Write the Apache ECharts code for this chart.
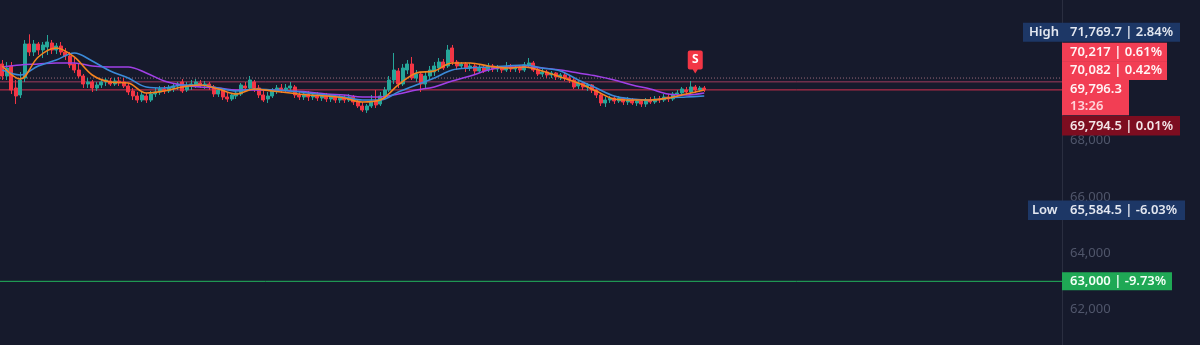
<!DOCTYPE html>
<html><head><meta charset="utf-8">
<script src="https://cdn.jsdelivr.net/npm/echarts@6/dist/echarts.min.js"></script>
<style>html,body{margin:0;padding:0;background:#161a2c;overflow:hidden}#c{width:1200px;height:345px}</style>
</head><body><div id="c"></div>
<script>
// ---- data ----
const opens = [70716,70290,70645,69864,69616,70219,71426,71142,71426,71213,
71320,71462,71213,71355,71142,71000,70716,70503,70290,70006,
70077,69864,69971,70077,70113,70006,70113,70077,69935,69758,
69580,69438,69580,69438,69651,69722,69829,69758,69864,69935,
70077,69793,69935,69971,70042,69971,70006,69900,69651,69793,
69545,69474,69580,69651,69935,69864,70077,69864,69616,69474,
69580,69758,69864,69793,69864,69900,69616,69545,69651,69545,
69616,69509,69580,69474,69545,69438,69509,69438,69545,69367,
69225,69083,69225,69403,69296,69545,69793,70148,70468,70006,
70503,70716,70219,70361,70006,70290,70432,70574,70787,70645,
71284,70787,70645,70716,70574,70645,70468,70574,70503,70645,
70539,70574,70503,70610,70539,70574,70503,70681,70752,70503,
70361,70432,70326,70397,70255,70326,70219,70148,69935,70042,
69900,69971,69793,69616,69332,69438,69509,69403,69509,69367,
69438,69332,69403,69296,69438,69367,69474,69438,69545,69474,
69651,69687,69793,69722,69900,69793,69864];
const closes = [70290,70574,69793,69580,70148,71426,71142,71426,71213,71391,
71497,71213,71355,71142,71000,70681,70503,70290,70006,70077,
69864,69971,70077,70148,70006,70113,70042,69935,69722,69580,
69438,69616,69438,69651,69722,69829,69758,69864,69935,70006,
69758,69935,70006,70077,69971,70006,69900,69651,69793,69545,
69474,69616,69687,69971,69864,70148,69864,69616,69438,69580,
69758,69864,69793,69864,69935,69616,69545,69651,69545,69616,
69509,69580,69474,69545,69438,69509,69438,69545,69367,69225,
69083,69225,69403,69261,69580,69793,70148,70503,70006,70574,
70716,70219,70361,70006,70290,70503,70645,70787,70574,71213,
70787,70645,70716,70574,70645,70468,70574,70468,70645,70539,
70574,70503,70610,70539,70574,70503,70681,70752,70503,70361,
70432,70326,70397,70255,70326,70219,70148,69900,70042,69900,
69971,69793,69616,69332,69438,69509,69403,69509,69367,69438,
69332,69403,69296,69438,69367,69474,69438,69545,69474,69651,
69687,69829,69722,69900,69793,69864,69796.3];
const lows = [70148,70148,69651,69296,69509,70077,71000,71000,71036,70929,
71036,71071,71071,71036,70858,70574,70397,70219,69864,69864,
69722,69758,69864,69935,69935,69935,69935,69864,69616,69438,
69332,69367,69332,69367,69545,69616,69651,69687,69722,69793,
69687,69722,69793,69864,69864,69829,69793,69545,69545,69438,
69367,69403,69474,69580,69722,69793,69722,69509,69367,69332,
69509,69651,69687,69722,69758,69509,69438,69438,69403,69438,
69403,69403,69367,69367,69332,69332,69332,69367,69261,69154,
69012,68977,69154,69154,69225,69438,69722,70006,69864,69935,
70361,70148,70077,69722,69864,70148,70290,70432,70503,70574,
70681,70503,70539,70432,70468,70361,70397,70397,70432,70432,
70432,70397,70432,70432,70432,70397,70432,70574,70432,70290,
70255,70219,70219,70148,70148,70113,70042,69829,69829,69793,
69758,69687,69509,69225,69190,69332,69296,69332,69261,69261,
69261,69225,69190,69190,69296,69296,69332,69367,69367,69403,
69545,69580,69616,69651,69687,69722,69722];
const highs = [70858,70787,70787,70148,70432,71568,71769.7,71568,71497,71497,
71746,71568,71462,71497,71284,71142,70929,70752,70361,70219,
70148,70077,70184,70219,70219,70219,70255,70219,70042,69864,
69722,69722,69687,69758,69864,69935,69935,69971,70042,70077,
70184,70077,70148,70184,70148,70113,70077,69971,69864,69864,
69722,69687,69793,70042,70077,70290,70148,69971,69793,69722,
69864,69971,70006,70006,70077,69971,69758,69722,69758,69722,
69722,69687,69687,69651,69651,69616,69616,69651,69616,69474,
69367,69296,69616,69793,69722,69900,70290,71107,70574,70716,
70858,70965,70503,70432,70432,70645,70787,70929,70894,71391,
71391,70858,70787,70787,70752,70716,70681,70645,70752,70716,
70681,70645,70787,70716,70645,70681,70787,70929,70823,70610,
70539,70503,70468,70432,70397,70397,70326,70219,70148,70077,
70042,70006,69864,69687,69545,69580,69580,69580,69545,69545,
69509,69474,69474,69509,69545,69580,69580,69651,69651,69722,
69793,69900,69900,70113,69971,69935,69935];

// moving-average lines, read at every 4th bar
const maIdx = [0,4,8,12,16,20,24,28,32,36,40,44,48,52,56,60,64,68,72,76,
80,84,88,92,96,100,104,108,112,116,120,124,128,132,136,140,144,148,152,156];
const maFast = [70645,70184,70965,71284,70965,70326,70077,70042,69687,69758,
69900,69971,69829,69651,69829,69758,69687,69616,69580,69509,
69367,69438,69971,70397,70468,70752,70752,70645,70574,70610,
70468,70255,70042,69758,69474,69438,69438,69509,69651,69793];
const maMid = [70503,70326,70645,70858,71107,70823,70468,70219,69900,69864,
69971,69971,69864,69758,69829,69793,69758,69687,69616,69545,
69438,69438,69722,69971,70219,70503,70574,70610,70645,70681,
70574,70468,70148,69864,69580,69474,69438,69509,69545,69580];
const maSlow = [70610,70681,70716,70752,70752,70645,70610,70610,70397,70113,
69971,69900,69864,69793,69793,69793,69758,69722,69651,69616,
69545,69545,69651,69793,69900,70113,70290,70503,70610,70610,
70574,70503,70397,70290,70148,69971,69829,69651,69616,69687];

const yTicks = [62000, 64000, 66000, 68000];
const totalSlots = 236;
const categories = Array.from({length: totalSlots}, (_, i) => 'b' + i);

const dottedLevel = 70217, pinkLevel = 70082, lastPrice = 69796.3, refPrice = 69794.5;
const highValue = 71769.7, lowValue = 65584.5, greenLevel = 63000;
const signalBar = 154;

// ---- chart ----
const chart = echarts.init(document.getElementById('c'), null, {renderer: 'canvas'});
const candleData = opens.map((o, i) => [o, closes[i], lows[i], highs[i]]);
const toPairs = arr => maIdx.map((x, k) => [x, arr[k]]);
const FONT = '"Noto Sans", "Open Sans", sans-serif';
// horizontal price levels spanning the whole plot, drawn through the value x-axis
const levelLine = (v, color, type) => ({
  type: 'line', xAxisIndex: 1, yAxisIndex: 0, silent: true, z: 1, showSymbol: false,
  data: [[-0.5, v], [totalSlots - 0.5, v]],
  lineStyle: {color: color, type: type, width: 1},
  emphasis: {disabled: true}
});

chart.setOption({
  backgroundColor: '#161a2c',
  animation: false,
  grid: {left: 0, right: 138, top: 0, bottom: 0},
  xAxis: [
    {type: 'category', data: categories, boundaryGap: true, show: false},
    {type: 'value', min: -0.5, max: totalSlots - 0.5, show: false}
  ],
  yAxis: {
    type: 'value', position: 'right', min: 60740, max: 72988, scale: true,
    splitLine: {show: false},
    axisTick: {show: false},
    axisLine: {show: true, onZero: false, lineStyle: {color: '#2a2e40', width: 1}},
    axisLabel: {
      customValues: yTicks, margin: 8, color: '#50566b', fontSize: 13, fontFamily: FONT,
      formatter: v => v.toLocaleString('en-US')
    }
  },
  series: [
    levelLine(dottedLevel, '#9a6878', [1, 2]),
    levelLine(pinkLevel, '#a03a5c', 'solid'),
    levelLine(lastPrice, '#d2304e', 'solid'),
    levelLine(greenLevel, '#22b45c', 'solid'),
    {
      type: 'candlestick', xAxisIndex: 0, yAxisIndex: 0, data: candleData, barWidth: 3.4, z: 2,
      itemStyle: {color: '#26a69a', color0: '#f23645', borderColor: '#26a69a', borderColor0: '#f23645', borderWidth: 1},
      markPoint: {
        silent: true,
        data: [{
          coord: [signalBar, highs[signalBar]],
          symbol: 'path://M2,0 H13 Q15,0 15,2 V17 Q15,19 13,19 H10 L7.5,23 L5,19 H2 Q0,19 0,17 V2 Q0,0 2,0 Z',
          symbolSize: [15, 23], symbolOffset: [0, -23],
          itemStyle: {color: '#f23645'},
          label: {show: true, formatter: 'S', color: '#ffffff', fontSize: 12, fontWeight: 'bold', fontFamily: FONT, offset: [0, -2]}
        }]
      }
    },
    {type: 'line', xAxisIndex: 1, data: toPairs(maSlow), smooth: 0.35, showSymbol: false, z: 3,
     lineStyle: {color: '#a040e6', width: 1.6}},
    {type: 'line', xAxisIndex: 1, data: toPairs(maMid), smooth: 0.35, showSymbol: false, z: 3,
     lineStyle: {color: '#3b8ad8', width: 1.6}},
    {type: 'line', xAxisIndex: 1, data: toPairs(maFast), smooth: 0.35, showSymbol: false, z: 4,
     lineStyle: {color: '#f5841f', width: 1.6}}
  ]
});

// ---- price-scale labels, positioned through the axis ----
const py = v => chart.convertToPixel({yAxisIndex: 0}, v);
const NAVY = '#1d3766', RED = '#f23e54', DARKRED = '#7d0d20', GREEN = '#1fa855';
const boxes = [
  {v: highValue, dy: -2, x: 1023, w: 157, h: 19, fill: NAVY, texts: [['High', 1029, 0, '#e3e7f0'], ['71,769.7 | 2.84%', 1070, 0, '#e3e7f0']]},
  {v: dottedLevel, dy: -25.8, x: 1062, w: 105, h: 19, fill: RED, texts: [['70,217 | 0.61%', 1070, 0, '#fff4f5']]},
  {v: pinkLevel, dy: -11.2, x: 1062, w: 105, h: 18.6, fill: RED, texts: [['70,082 | 0.42%', 1070, 0, '#fff4f5']]},
  {v: lastPrice, dy: 7.6, x: 1062, w: 67, h: 35.5, fill: RED, texts: [['69,796.3', 1070, -8, '#fff4f5'], ['13:26', 1070, 8.5, '#ffd3d9']]},
  {v: refPrice, dy: 35.9, x: 1062, w: 118, h: 19.5, fill: DARKRED, texts: [['69,794.5 | 0.01%', 1070, 0, '#f4e6e8']]},
  {v: lowValue, dy: 1.6, x: 1028, w: 157, h: 19.5, fill: NAVY, texts: [['Low', 1032, 0, '#e3e7f0'], ['65,584.5 | -6.03%', 1070, 0, '#e3e7f0']]},
  {v: greenLevel, dy: 0, x: 1062, w: 110, h: 18, fill: GREEN, texts: [['63,000 | -9.73%', 1070, 0, '#f2fff6']]}
];
const graphic = [];
boxes.forEach(b => {
  const cy = py(b.v) + b.dy;
  graphic.push({type: 'rect', z: 100, silent: true,
    shape: {x: b.x, y: cy - b.h / 2, width: b.w, height: b.h}, style: {fill: b.fill}});
  b.texts.forEach(t => graphic.push({type: 'text', z: 101, silent: true,
    style: {text: t[0], x: t[1], y: cy + t[2], fill: t[3], font: '600 13px ' + FONT,
            textAlign: 'left', textVerticalAlign: 'middle', align: 'left', verticalAlign: 'middle'}}));
});
chart.setOption({graphic: graphic});
</script>
</body></html>
